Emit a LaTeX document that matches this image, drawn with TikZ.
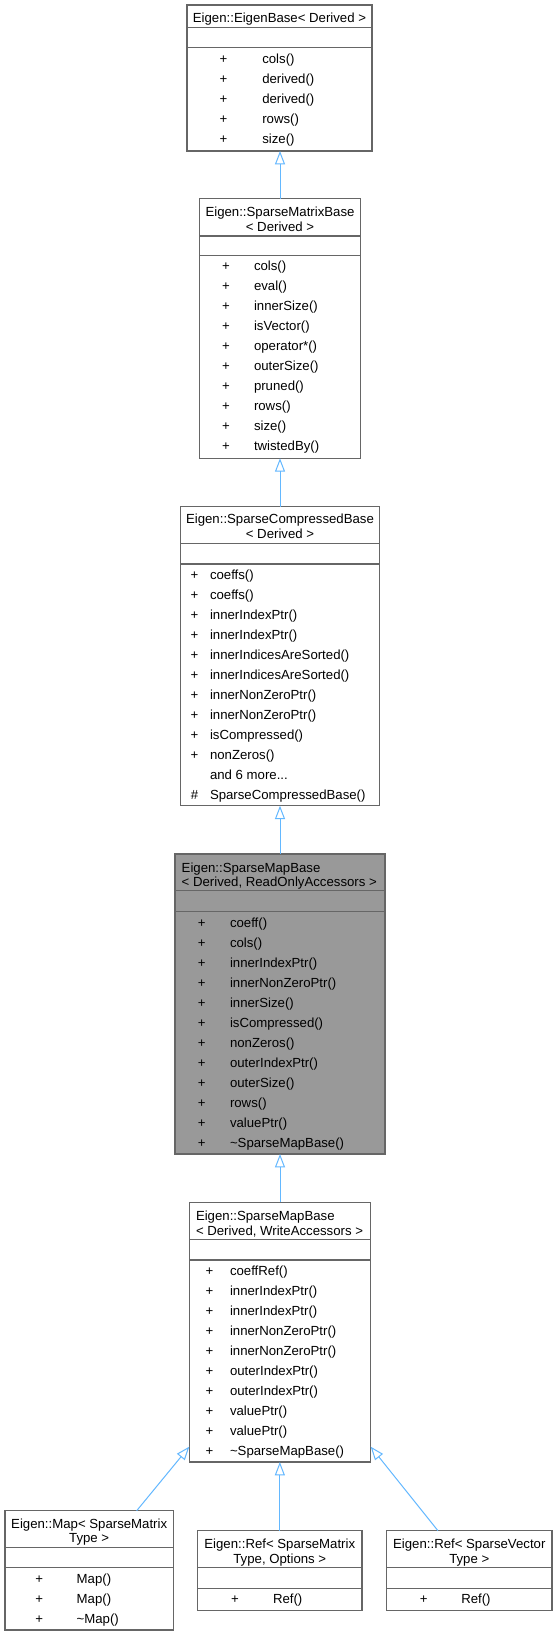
\documentclass[tikz,border=0pt]{standalone}
\usepackage{fontspec}
\setmainfont{Liberation Sans}
\usetikzlibrary{arrows.meta,calc}
\definecolor{boxgray}{HTML}{666666}
\definecolor{hilite}{HTML}{999999}
\definecolor{edgeblue}{HTML}{63B8FF}
% class box: name, left, top, right, bottom, fill
\newcommand\cbox[6]{\node[classbox, fill=#6, minimum width={(#4-#2)*0.75pt}, minimum height={(#5-#3)*0.75pt}] (#1) at (#2,#3) {};}
% separator: box name, y
\newcommand\csep[2]{\draw[sepline] (#1.west |- 0,#2) -- (#1.east |- 0,#2);}
% title line centred: name, x, y, text
\newcommand\tlc[4]{\node[txt, anchor=base] (#1) at (#2,#3+4.5) {#4};}
% title line left: name, x, y, text
\newcommand\tll[4]{\node[txt, anchor=base west] (#1) at (#2,#3+4.5) {#4};}
% member row: name, plus x, text x, y, symbol, text
\newcommand\mrow[6]{\node[txt, anchor=base] (#1s) at (#2,#4+4) {#5};\node[txt, anchor=base west] (#1t) at (#3,#4+4) {#6};}
\newcommand\mtxt[4]{\node[txt, anchor=base west] (#1t) at (#2,#3+4) {#4};}
\begin{document}
\begin{tikzpicture}[x=0.75pt,y=-0.75pt,
  classbox/.style={draw=boxgray, line width=0.9pt, inner sep=0pt, outer sep=0pt, anchor=north west},
  sepline/.style={draw=boxgray, line width=0.9pt},
  txt/.style={inner sep=0pt, outer sep=0pt, font=\fontsize{9.9}{12}\selectfont},
  inh/.style={draw=edgeblue, line width=0.75pt, -{Triangle[open, length=10pt, width=7.5pt]}}]
\fill[white] (0,0) rectangle (557,1636);
\useasboundingbox (0,0) rectangle (557,1636);

% EigenBase
\cbox{eb}{187}{5}{372}{151}{white}
\csep{eb}{27.3}\csep{eb}{47.7}
\tlc{ebT}{279.5}{18.3}{Eigen::EigenBase< Derived >}
\mrow{eba}{223.5}{262.3}{59}{+}{cols()}
\mrow{ebb}{223.5}{262.3}{79}{+}{derived()}
\mrow{ebc}{223.5}{262.3}{99}{+}{derived()}
\mrow{ebd}{223.5}{262.3}{119}{+}{rows()}
\mrow{ebe}{223.5}{262.3}{139}{+}{size()}

% SparseMatrixBase
\cbox{smb}{199.3}{198.7}{360.7}{458.3}{white}
\csep{smb}{236}\csep{smb}{255.7}
\tlc{smbT}{280}{211.7}{Eigen::SparseMatrixBase}
\tlc{smbU}{280}{226.7}{< Derived >}
\mrow{smba}{226}{254}{266.7}{+}{cols()}
\mrow{smbb}{226}{254}{286.7}{+}{eval()}
\mrow{smbc}{226}{254}{306.7}{+}{innerSize()}
\mrow{smbd}{226}{254}{326.7}{+}{isVector()}
\mrow{smbe}{226}{254}{346.7}{+}{operator*()}
\mrow{smbf}{226}{254}{366.7}{+}{outerSize()}
\mrow{smbg}{226}{254}{386.7}{+}{pruned()}
\mrow{smbh}{226}{254}{406.7}{+}{rows()}
\mrow{smbi}{226}{254}{426.7}{+}{size()}
\mrow{smbj}{226}{254}{446.7}{+}{twistedBy()}

% SparseCompressedBase
\cbox{scb}{180.7}{506.7}{379.3}{805.7}{white}
\csep{scb}{543.7}\csep{scb}{564}
\tlc{scbT}{280}{519.3}{Eigen::SparseCompressedBase}
\tlc{scbU}{280}{534.3}{< Derived >}
\mrow{scba}{194.5}{210}{575}{+}{coeffs()}
\mrow{scbb}{194.5}{210}{595}{+}{coeffs()}
\mrow{scbc}{194.5}{210}{615}{+}{innerIndexPtr()}
\mrow{scbd}{194.5}{210}{635}{+}{innerIndexPtr()}
\mrow{scbe}{194.5}{210}{655}{+}{innerIndicesAreSorted()}
\mrow{scbf}{194.5}{210}{675}{+}{innerIndicesAreSorted()}
\mrow{scbg}{194.5}{210}{695}{+}{innerNonZeroPtr()}
\mrow{scbh}{194.5}{210}{715}{+}{innerNonZeroPtr()}
\mrow{scbi}{194.5}{210}{735}{+}{isCompressed()}
\mrow{scbj}{194.5}{210}{755}{+}{nonZeros()}
\mtxt{scbk}{210}{775}{and 6 more...}
\mrow{scbl}{194.5}{210}{795}{\#}{SparseCompressedBase()}

% SparseMapBase ReadOnly
\cbox{ro}{175}{854}{385}{1154}{hilite}
\csep{ro}{890.7}\csep{ro}{911.7}
\tll{roT}{181.7}{867.7}{Eigen::SparseMapBase}
\tll{roU}{181.7}{882.3}{< Derived, ReadOnlyAccessors >}
\mrow{roa}{201.7}{230}{923.3}{+}{coeff()}
\mrow{rob}{201.7}{230}{943.3}{+}{cols()}
\mrow{roc}{201.7}{230}{963.3}{+}{innerIndexPtr()}
\mrow{rod}{201.7}{230}{983.3}{+}{innerNonZeroPtr()}
\mrow{roe}{201.7}{230}{1003.3}{+}{innerSize()}
\mrow{rof}{201.7}{230}{1023.3}{+}{isCompressed()}
\mrow{rog}{201.7}{230}{1043.3}{+}{nonZeros()}
\mrow{roh}{201.7}{230}{1063.3}{+}{outerIndexPtr()}
\mrow{roi}{201.7}{230}{1083.3}{+}{outerSize()}
\mrow{roj}{201.7}{230}{1103.3}{+}{rows()}
\mrow{rok}{201.7}{230}{1123.3}{+}{valuePtr()}
\mrow{rol}{201.7}{230}{1143.3}{+}{\textasciitilde SparseMapBase()}

% SparseMapBase WriteAccessors
\cbox{wa}{189.3}{1202.3}{370.7}{1462}{white}
\csep{wa}{1239.3}\csep{wa}{1260}
\tll{waT}{196}{1216}{Eigen::SparseMapBase}
\tll{waU}{196}{1230.7}{< Derived, WriteAccessors >}
\mrow{waa}{209.5}{230}{1271}{+}{coeffRef()}
\mrow{wab}{209.5}{230}{1291}{+}{innerIndexPtr()}
\mrow{wac}{209.5}{230}{1311}{+}{innerIndexPtr()}
\mrow{wad}{209.5}{230}{1331}{+}{innerNonZeroPtr()}
\mrow{wae}{209.5}{230}{1351}{+}{innerNonZeroPtr()}
\mrow{waf}{209.5}{230}{1371}{+}{outerIndexPtr()}
\mrow{wag}{209.5}{230}{1391}{+}{outerIndexPtr()}
\mrow{wah}{209.5}{230}{1411}{+}{valuePtr()}
\mrow{wai}{209.5}{230}{1431}{+}{valuePtr()}
\mrow{waj}{209.5}{230}{1451}{+}{\textasciitilde SparseMapBase()}

% Map
\cbox{map}{5}{1510.7}{173.3}{1630}{white}
\csep{map}{1547.3}\csep{map}{1567.7}
\tlc{mapT}{89.2}{1523.7}{Eigen::Map< SparseMatrix}
\tlc{mapU}{89.2}{1538.3}{Type >}
\mrow{mapa}{39.3}{76.7}{1579.3}{+}{Map()}
\mrow{mapb}{39.3}{76.7}{1599.3}{+}{Map()}
\mrow{mapc}{39.3}{76.7}{1619.3}{+}{\textasciitilde Map()}

% Ref SparseMatrix
\cbox{refa}{197.7}{1530.7}{362}{1610.7}{white}
\csep{refa}{1567.7}\csep{refa}{1588.3}
\tlc{refaT}{279.8}{1543.7}{Eigen::Ref< SparseMatrix}
\tlc{refaU}{279.8}{1559}{Type, Options >}
\mrow{refaa}{235}{273}{1599}{+}{Ref()}

% Ref SparseVector
\cbox{refb}{386.7}{1530.7}{552}{1610.7}{white}
\csep{refb}{1567.7}\csep{refb}{1588.3}
\tlc{refbT}{469.3}{1543.7}{Eigen::Ref< SparseVector}
\tlc{refbU}{469.3}{1559}{Type >}
\mrow{refba}{423.7}{461.3}{1599}{+}{Ref()}

% inheritance connectors
\draw[inh] (smb.north) -- (smb.north |- eb.south);
\draw[inh] (scb.north) -- (scb.north |- smb.south);
\draw[inh] (ro.north) -- (ro.north |- scb.south);
\draw[inh] (wa.north) -- (wa.north |- ro.south);
\draw[inh] (refa.north) -- (refa.north |- wa.south);
\coordinate (mapTop) at ($(map.north west)!0.7825!(map.north east)$);
\coordinate (waW) at ($(wa.north west)!0.941!(wa.south west)$);
\coordinate (refbTop) at ($(refb.north west)!0.31!(refb.north east)$);
\coordinate (waE) at ($(wa.north east)!0.941!(wa.south east)$);
\draw[inh] (mapTop) -- (waW);
\draw[inh] (refbTop) -- (waE);
\end{tikzpicture}
\end{document}
